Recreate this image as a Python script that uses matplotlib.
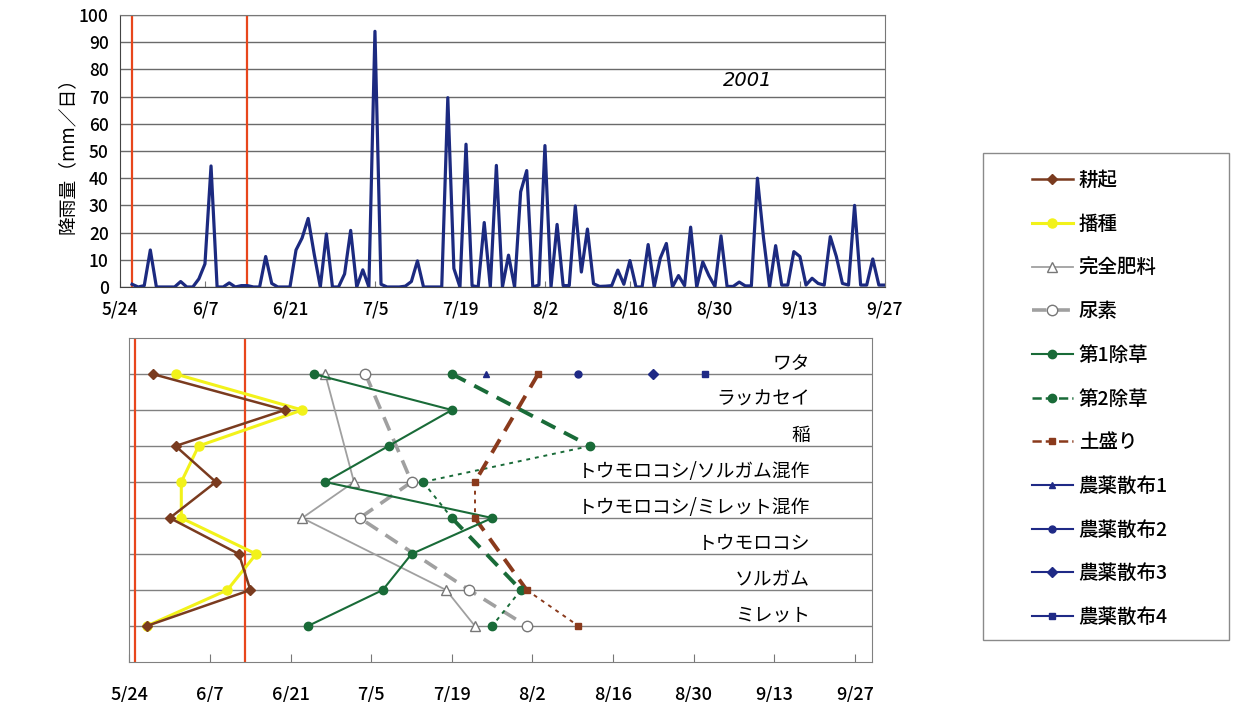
import numpy as np
import pandas as pd
import matplotlib
matplotlib.use("Agg")
import matplotlib.pyplot as plt
from matplotlib.lines import Line2D
from matplotlib.patches import Rectangle

plt.rcParams['font.family'] = ['Noto Sans CJK JP', 'DejaVu Sans']

# daily rainfall 2001 (mm/day) from 5/26 to 9/27
rain_start = "2001-05-26"
rain = [1, 0, 0.5, 13.6, 0, 0, 0, 0, 2, 0,
        0, 3, 8.5, 44.5, 0, 0, 1.5, 0, 0.5, 0.5,
        0, 0, 11.2, 1.3, 0, 0, 0, 13.6, 18, 25.2,
        12, 0, 19.5, 0, 0, 4.8, 20.8, 0, 6.3, 0,
        94, 1, 0, 0, 0, 0.3, 2, 9.6, 0, 0,
        0, 0, 69.6, 6.8, 0, 52.5, 0.5, 0, 23.7, 0,
        44.7, 0, 11.7, 0, 35, 42.8, 0, 0.7, 52, 0,
        23, 0.5, 0.5, 29.8, 5.5, 21.3, 1.2, 0.2, 0.3, 0.5,
        6.2, 1, 9.7, 0, 0, 15.6, 0, 10.6, 16, 0,
        4.2, 0.5, 22, 0, 9.2, 4.2, 0.2, 18.8, 0.2, 0.2,
        1.8, 0.4, 0.4, 40, 18.1, 0, 15.2, 0.7, 0.7, 13,
        11.2, 0.7, 3.2, 1.3, 0.7, 18.5, 11.2, 1.3, 0.7, 30,
        0.7, 0.7, 10.3, 0.7, 0.7]

# sowing period markers (red lines)
rain_marks = ["5/26", "6/14"]
ops_marks = ["5/25", "6/13"]

# crops, top to bottom
crops = ["ワタ", "ラッカセイ", "稲", "トウモロコシ/ソルガム混作",
         "トウモロコシ/ミレット混作", "トウモロコシ", "ソルガム", "ミレット"]

# field operation dates per crop (None = not done)
plowing = ["5/28", "6/20", "6/1", "6/8", "5/31", "6/12", "6/14", "5/27"]
sowing = ["6/1", "6/23", "6/5", "6/2", "6/2", "6/15", "6/10", "5/27"]
compound_fert = ["6/27", None, None, "7/2", "6/23", None, "7/18", "7/23"]
urea = ["7/4", None, None, "7/12", "7/3", None, "7/22", "8/1"]
weeding1 = ["6/25", "7/19", "7/8", "6/27", "7/26", "7/12", "7/7", "6/24"]
weeding2 = ["7/19", None, "8/12", "7/14", "7/19", None, "7/31", "7/26"]
earthing = ["8/3", None, None, "7/23", "7/23", None, "8/1", "8/10"]
spray1 = ["7/25", None, None, None, None, None, None, None]
spray2 = ["8/10", None, None, None, None, None, None, None]
spray3 = ["8/23", None, None, None, None, None, None, None]
spray4 = ["9/1", None, None, None, None, None, None, None]

tick_labels = ["5/24", "6/7", "6/21", "7/5", "7/19", "8/2", "8/16", "8/30", "9/13", "9/27"]


def to_date(s):
    return pd.Timestamp("2001/" + s)


def points(dates):
    rows = len(crops) - np.arange(len(crops))
    xs, ys = [], []
    for d, r in zip(dates, rows):
        if d is not None:
            xs.append(to_date(d))
            ys.append(r)
    return xs, ys


fig = plt.figure(figsize=(12.38, 7.02), dpi=100)

# ---------- rainfall ----------
ax1 = fig.add_axes([0.0969, 0.5912, 0.6179, 0.3874])
rain_dates = pd.date_range(rain_start, periods=len(rain), freq="D")
ax1.plot(rain_dates, rain, color="#1c2a80", lw=2.3, zorder=3)
for m in rain_marks:
    ax1.axvline(to_date(m), color="#e8461c", lw=1.6, zorder=2)
ax1.set_ylim(0, 100)
ax1.set_yticks(np.arange(0, 101, 10))
ax1.grid(axis="y", color="#6a6a6a", lw=1.0)
ax1.set_xlim(to_date("5/24"), to_date("9/27"))
ticks = [to_date(t) for t in tick_labels]
ax1.set_xticks(ticks)
ax1.set_xticklabels(tick_labels)
ax1.tick_params(axis="x", direction="in", length=4, color="#777777", pad=10, labelsize=12.5)
ax1.tick_params(axis="y", length=0, pad=8, labelsize=12.5)
for lab in ax1.get_xticklabels() + ax1.get_yticklabels():
    lab.set_fontweight("medium")
for s in ax1.spines.values():
    s.set_color("#777777")
ax1.spines["left"].set_color("#444444")
ax1.spines["bottom"].set_color("#444444")
ax1.text(0.82, 0.76, "2001", transform=ax1.transAxes, fontsize=14,
         style="italic", ha="center", va="center", family="DejaVu Sans")
fig.text(67 / 1238, 1 - 151 / 702, "降雨量（mm／日）", rotation=90,
         ha="center", va="center", fontsize=13.5)

# ---------- field operations ----------
ax2 = fig.add_axes([0.1046, 0.0570, 0.5998, 0.4615])
ax2.set_xlim(to_date("5/24"), to_date("5/24") + pd.Timedelta(days=129))
ax2.set_ylim(0, 9)
ax2.set_yticks(np.arange(1, 9))
ax2.set_yticklabels([])
ax2.tick_params(axis="y", length=0)
ax2.grid(axis="y", color="#808080", lw=1.0)
ax2.set_xticks(ticks)
ax2.set_xticklabels(tick_labels)
ax2.tick_params(axis="x", direction="in", length=6, color="#777777", pad=17, labelsize=13)
for lab in ax2.get_xticklabels():
    lab.set_fontweight("medium")
for s in ax2.spines.values():
    s.set_color("#808080")
for m in ops_marks:
    ax2.axvline(to_date(m), color="#e8461c", lw=1.6, zorder=2)

for i, c in enumerate(crops):
    ax2.text(0.9165, len(crops) - i, c, transform=ax2.get_yaxis_transform(),
             ha="right", va="bottom", fontsize=13.5)

brown = "#7a3b1f"
yellow = "#f2f21a"
grey = "#a0a0a0"
green = "#196b38"
soil = "#8a3a1c"
navy = "#1f2a86"

handles = []
x, y = points(plowing)
h, = ax2.plot(x, y, color=brown, lw=1.8, marker="D", ms=5, zorder=4, label="耕起")
handles.append(h)
x, y = points(sowing)
h, = ax2.plot(x, y, color=yellow, lw=2.2, marker="o", ms=6.5, zorder=3, label="播種")
handles.append(h)
x, y = points(compound_fert)
h, = ax2.plot(x, y, color=grey, lw=1.3, marker="^", ms=7, mfc="white", mec="#777777",
              zorder=4, label="完全肥料")
handles.append(h)
x, y = points(urea)
h, = ax2.plot(x, y, color=grey, lw=2.6, dashes=(4, 2.5), marker="o", ms=7.5, mfc="white",
              mec="#777777", zorder=4, label="尿素")
handles.append(h)
x, y = points(weeding1)
h, = ax2.plot(x, y, color=green, lw=1.5, marker="o", ms=6, zorder=5, label="第1除草")
handles.append(h)


def segmented(dates, color, marker, ms, label):
    xs, ys = points(dates)
    for k in range(len(xs) - 1):
        if ys[k] - ys[k + 1] > 1:
            ax2.plot(xs[k:k + 2], ys[k:k + 2], color=color, lw=2.8, dashes=(4, 2.5), zorder=4)
        else:
            ax2.plot(xs[k:k + 2], ys[k:k + 2], color=color, lw=1.4, dashes=(2, 2.5), zorder=4)
    ax2.plot(xs, ys, ls="none", marker=marker, ms=ms, color=color, zorder=5)
    return Line2D([], [], color=color, lw=1.8, ls="--", marker=marker, ms=ms, label=label)


handles.append(segmented(weeding2, green, "o", 6, "第2除草"))
handles.append(segmented(earthing, soil, "s", 4.5, "土盛り"))

for dates, mk, lab in [(spray1, "^", "農薬散布1"), (spray2, "o", "農薬散布2"),
                       (spray3, "D", "農薬散布3"), (spray4, "s", "農薬散布4")]:
    x, y = points(dates)
    ax2.plot(x, y, ls="none", marker=mk, ms=5, color=navy, zorder=5)
    handles.append(Line2D([], [], color=navy, lw=1.5, marker=mk, ms=5, label=lab))

# legend box
fig.patches.append(Rectangle((983 / 1238, 1 - 640 / 702), 246 / 1238, 487 / 702,
                             transform=fig.transFigure, fill=False,
                             edgecolor="#8a8a8a", lw=1.0))
fig.legend(handles=handles, loc="upper left", bbox_to_anchor=(1032 / 1238, 1 - 171 / 702),
           frameon=False, prop={"size": 14, "weight": "medium"}, handlelength=2.1,
           handletextpad=0.3, labelspacing=1.27, borderpad=0, borderaxespad=0)

fig.savefig("out.png", dpi=100)
